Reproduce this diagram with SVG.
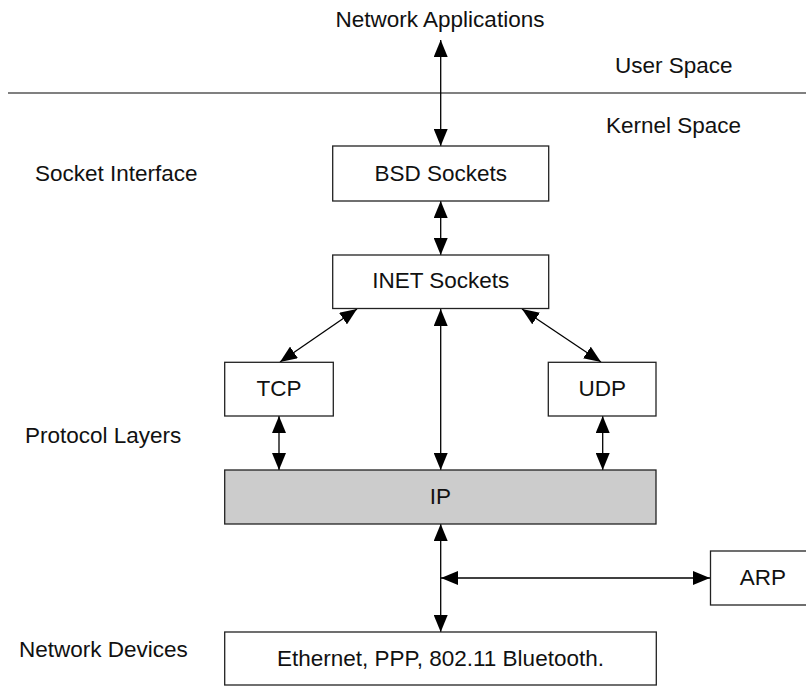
<svg xmlns="http://www.w3.org/2000/svg" width="806" height="686" viewBox="0 0 806 686">
  <style>
    text { font-family: "Liberation Sans", Arial, sans-serif; font-size: 22.5px; fill: #111; }
    .c { text-anchor: middle; }
    .box { fill: #fff; stroke: #222; stroke-width: 1.3; }
    .ip { fill: #cccccc; stroke: #222; stroke-width: 1.3; }
    .wire { stroke: #000; stroke-width: 1.3; fill: none; marker-start: url(#head); marker-end: url(#head); }
  </style>
  <defs>
    <marker id="head" viewBox="0 0 17 14" refX="17" refY="7" markerWidth="17" markerHeight="14" markerUnits="userSpaceOnUse" orient="auto-start-reverse">
      <path d="M0,0 L17,7 L0,14 z" fill="#000"/>
    </marker>
  </defs>

  <rect width="806" height="686" fill="#fff"/>

  <!-- user / kernel boundary -->
  <line x1="8" y1="93" x2="806" y2="93" stroke="#808080" stroke-width="2"/>

  <!-- side labels -->
  <g id="labels">
    <text class="c" x="440" y="27">Network Applications</text>
    <text x="615" y="73">User Space</text>
    <text x="606" y="133">Kernel Space</text>
    <text x="35" y="181">Socket Interface</text>
    <text x="25" y="443">Protocol Layers</text>
    <text x="19" y="657">Network Devices</text>
  </g>

  <!-- connectors -->
  <g id="connectors">
    <line class="wire" x1="440.7" y1="40" x2="440.7" y2="146"/>
    <line class="wire" x1="440.7" y1="201" x2="440.7" y2="255"/>
    <line class="wire" x1="440.7" y1="309" x2="440.7" y2="470"/>
    <line class="wire" x1="357" y1="309" x2="280" y2="362"/>
    <line class="wire" x1="522" y1="309" x2="601" y2="362"/>
    <line class="wire" x1="279" y1="416" x2="279" y2="470"/>
    <line class="wire" x1="602.7" y1="416" x2="602.7" y2="470"/>
    <line class="wire" x1="440.7" y1="524" x2="440.7" y2="632"/>
    <line class="wire" x1="441" y1="578" x2="710" y2="578"/>
  </g>

  <g id="bsd">
    <rect class="box" x="332.7" y="146" width="216" height="55"/>
    <text class="c" x="440.7" y="181">BSD Sockets</text>
  </g>
  <g id="inet">
    <rect class="box" x="332.7" y="255" width="216" height="53.5"/>
    <text class="c" x="440.7" y="288">INET Sockets</text>
  </g>
  <g id="tcp">
    <rect class="box" x="224.7" y="362.3" width="108.6" height="53.7"/>
    <text class="c" x="279" y="396">TCP</text>
  </g>
  <g id="udp">
    <rect class="box" x="548.3" y="362.3" width="107.7" height="53.7"/>
    <text class="c" x="602.2" y="396">UDP</text>
  </g>
  <g id="ip">
    <rect class="ip" x="224.7" y="470" width="431.3" height="54"/>
    <text class="c" x="440.5" y="504">IP</text>
  </g>
  <g id="arp">
    <rect class="box" x="710.5" y="551" width="110" height="54"/>
    <text class="c" x="763" y="585">ARP</text>
  </g>
  <g id="devices">
    <rect class="box" x="224.7" y="632" width="431.6" height="53"/>
    <text class="c" x="440.5" y="666">Ethernet, PPP, 802.11 Bluetooth.</text>
  </g>
</svg>
